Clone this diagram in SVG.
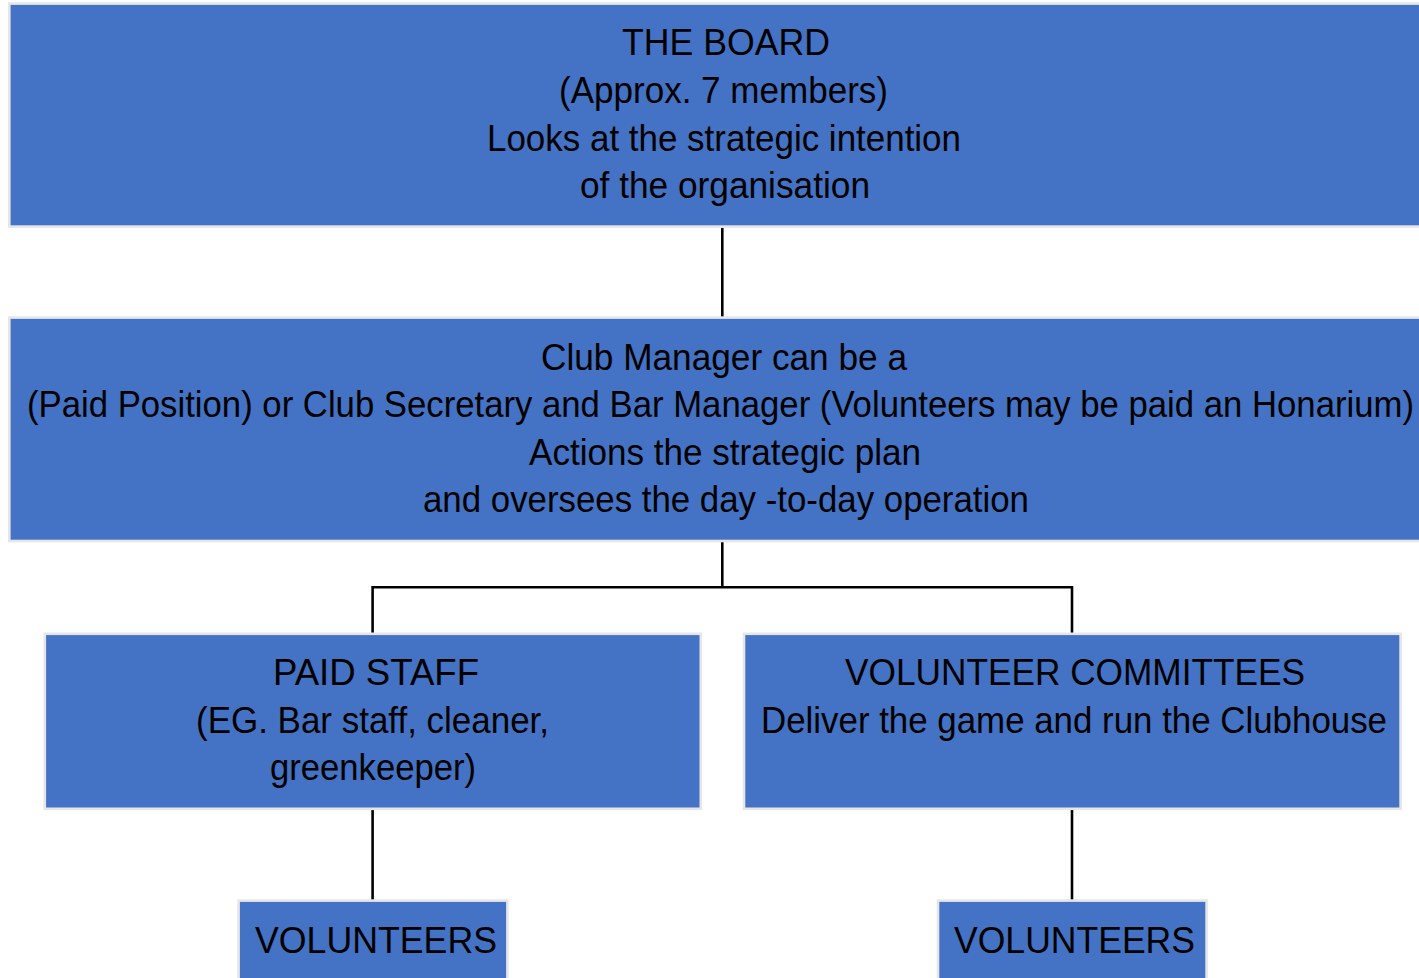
<svg xmlns="http://www.w3.org/2000/svg" width="1419" height="978" viewBox="0 0 1419 978">
<style>
.box{fill:#4472C4;stroke:#E6E6E6;stroke-width:2.6}
.t{font-family:"Liberation Sans",Arial,sans-serif;font-size:36px;fill:#000}
.c{stroke:#000;stroke-width:2.6;fill:none}
</style>
<rect x="0" y="0" width="1419" height="978" fill="#fff"/>
<g id="connectors">
<line class="c" x1="722.3" y1="228" x2="722.3" y2="318"/>
<line class="c" x1="722.3" y1="542" x2="722.3" y2="587.3"/>
<polyline class="c" points="372.6,633 372.6,587.3 1072,587.3 1072,633"/>
<line class="c" x1="372.6" y1="810" x2="372.6" y2="900"/>
<line class="c" x1="1072" y1="810" x2="1072" y2="900"/>
</g>
<g id="board">
<rect class="box" x="9.3" y="3.6" width="1430" height="223"/>
<text class="t" x="622" y="55" textLength="208" lengthAdjust="spacingAndGlyphs">THE BOARD</text>
<text class="t" x="559" y="102.5" textLength="329" lengthAdjust="spacingAndGlyphs">(Approx. 7 members)</text>
<text class="t" x="487" y="150.5" textLength="474" lengthAdjust="spacingAndGlyphs">Looks at the strategic intention</text>
<text class="t" x="580" y="197.5" textLength="290" lengthAdjust="spacingAndGlyphs">of the organisation</text>
</g>
<g id="manager">
<rect class="box" x="9.3" y="317.6" width="1430" height="223.4"/>
<text class="t" x="541" y="369.5" textLength="366" lengthAdjust="spacingAndGlyphs">Club Manager can be a</text>
<text class="t" x="27" y="417" textLength="1387" lengthAdjust="spacingAndGlyphs">(Paid Position) or Club Secretary and Bar Manager (Volunteers may be paid an Honarium)</text>
<text class="t" x="529" y="464.5" textLength="392" lengthAdjust="spacingAndGlyphs">Actions the strategic plan</text>
<text class="t" x="423" y="512" textLength="606" lengthAdjust="spacingAndGlyphs">and oversees the day -to-day operation</text>
</g>
<g id="paid-staff">
<rect class="box" x="44.8" y="633.8" width="656" height="175"/>
<text class="t" x="273" y="685" textLength="206" lengthAdjust="spacingAndGlyphs">PAID STAFF</text>
<text class="t" x="196" y="732.5" textLength="353" lengthAdjust="spacingAndGlyphs">(EG. Bar staff, cleaner,</text>
<text class="t" x="270" y="780" textLength="206" lengthAdjust="spacingAndGlyphs">greenkeeper)</text>
</g>
<g id="volunteer-committees">
<rect class="box" x="744" y="633.8" width="656.6" height="175"/>
<text class="t" x="845" y="685" textLength="460" lengthAdjust="spacingAndGlyphs">VOLUNTEER COMMITTEES</text>
<text class="t" x="761" y="732.5" textLength="626" lengthAdjust="spacingAndGlyphs">Deliver the game and run the Clubhouse</text>
</g>
<g id="volunteers-left">
<rect class="box" x="238.6" y="900.6" width="268.8" height="100"/>
<text class="t" x="255" y="953" textLength="242" lengthAdjust="spacingAndGlyphs">VOLUNTEERS</text>
</g>
<g id="volunteers-right">
<rect class="box" x="938" y="900.6" width="268.6" height="100"/>
<text class="t" x="954" y="953" textLength="241" lengthAdjust="spacingAndGlyphs">VOLUNTEERS</text>
</g>
</svg>
